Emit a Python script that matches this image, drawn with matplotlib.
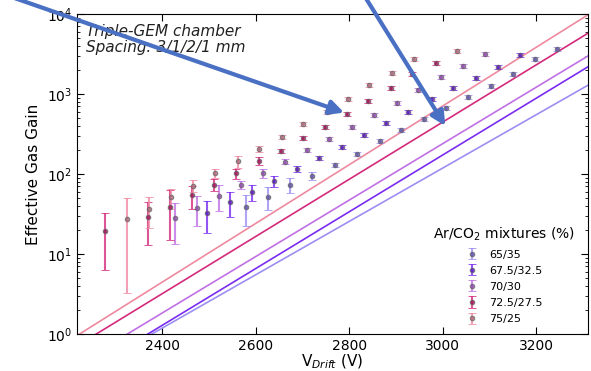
import matplotlib
matplotlib.use('Agg')
import matplotlib.pyplot as plt
import numpy as np

#data: drift voltage (V), effective gain, gain error
mixtures = ['65/35', '67.5/32.5', '70/30', '72.5/27.5', '75/25']

v65 = [2579, 2626, 2674, 2721, 2770, 2816, 2866, 2911, 2961, 3007, 3055, 3103, 3150, 3198, 3244]
g65 = [38.4, 52, 73, 95, 130, 178, 258, 355, 487, 674, 909, 1270, 1778, 2738, 3652]
e65 = [16, 17, 15, 12, 8, 10, 15, 20, 28, 40, 55, 75, 105, 160, 210]

v67 = [2495, 2545, 2593, 2640, 2688, 2736, 2784, 2832, 2878, 2927, 2977, 3023, 3071, 3119, 3166]
g67 = [32.3, 44.3, 59, 82.5, 114.5, 160, 219, 305, 430, 601, 866, 1189, 1600, 2194, 3073]
e67 = [14, 15, 13, 13, 10, 10, 13, 18, 25, 35, 50, 70, 95, 130, 180]

v70 = [2428, 2474, 2522, 2569, 2616, 2663, 2711, 2758, 2807, 2853, 2902, 2948, 2996, 3043, 3091]
g70 = [28.4, 38, 53, 73.5, 102, 142, 200, 276, 383, 546, 778, 1132, 1618, 2239, 3162]
e70 = [15, 15.5, 19, 9, 14, 10, 12, 16, 22, 32, 45, 65, 95, 130, 180]

v72 = [2278, 2370, 2417, 2465, 2511, 2558, 2607, 2654, 2701, 2749, 2795, 2841, 2890, 2934, 2985]
g72 = [19.4, 29, 39, 54, 73.5, 102, 145, 194, 282, 390, 557, 824, 1199, 1763, 2462]
e72 = [13, 16, 24, 17, 13, 15, 17, 12, 17, 23, 33, 50, 70, 100, 140]

v75 = [2324, 2373, 2418, 2467, 2513, 2562, 2608, 2656, 2702, 2752, 2797, 2843, 2892, 2939, 3031]
g75 = [27, 36, 51, 71, 102, 145, 207, 293, 418, 601, 866, 1296, 1846, 2738, 3447]
e75 = [23.7, 15, 14, 12, 12, 25, 20, 18, 25, 35, 50, 75, 100, 150, 190]

#fit lines: gain at the two ends of the voltage range
fit_v = [2200, 3320]
fit65 = [0.255, 1380]
fit67 = [0.25, 2355]
fit70 = [0.36, 3214]
fit72 = [0.614, 6194]
fit75 = [0.82, 10540]

colors = ['#9c8ef2', '#7a2cf0', '#c070e4', '#d42a7c', '#ee8aa0']
marker_colors = ['#5c50a0', '#5a1ab8', '#8c4aa8', '#9a1458', '#a86878']
series = [(v65, g65, e65, fit65), (v67, g67, e67, fit67), (v70, g70, e70, fit70),
          (v72, g72, e72, fit72), (v75, g75, e75, fit75)]

plt.rcParams['xtick.direction'] = 'in'
plt.rcParams['ytick.direction'] = 'in'
plt.rcParams['xtick.top'] = True
plt.rcParams['ytick.right'] = True
plt.rcParams['xtick.major.size'] = 5
plt.rcParams['ytick.major.size'] = 5
plt.rcParams['ytick.minor.size'] = 2.5
plt.rcParams['xtick.labelsize'] = 10
plt.rcParams['ytick.labelsize'] = 10

fig = plt.figure(figsize=(5.91, 3.71), dpi=100)
ax = fig.add_axes([0.1303, 0.0997, 0.8646, 0.8626])

handles = []
for (v, g, e, fit), c, mc, name in zip(series, colors, marker_colors, mixtures):
    ax.plot(fit_v, fit, color=c, lw=1.2, zorder=2)
    eb = ax.errorbar(v, g, yerr=e, fmt='o', ms=3.3, mfc=mc, mec='#666666', mew=0.7,
                     ecolor=c, elinewidth=1.5, capsize=2.8, capthick=1.0,
                     alpha=0.8, label=name, zorder=3)
    handles.append(eb)

ax.set_yscale('log')
ax.set_xlim(2218, 3311)
ax.set_ylim(1, 1e4)
ax.set_xticks([2400, 2600, 2800, 3000, 3200])
ax.set_ylabel('Effective Gas Gain', fontsize=11)
ax.set_xlabel(r'V$_{Drift}$ (V)', fontsize=11, labelpad=0)

ax.text(0.018, 0.968, 'Triple-GEM chamber\nSpacing: 3/1/2/1 mm', transform=ax.transAxes,
        fontsize=11, style='italic', va='top', ha='left', color='#222222', linespacing=1.05)

leg = ax.legend(handles=handles, loc='lower right', bbox_to_anchor=(0.995, 0.0),
                frameon=False, fontsize=8, title=r'Ar/CO$_2$ mixtures (%)',
                title_fontsize=10, handlelength=1.0, handletextpad=1.1, labelspacing=0.55)

#blue annotation arrows
arrow_c = '#4a70c4'
ax.annotate('', xy=(2795, 570), xycoords='data', xytext=(0, 378), textcoords='figure pixels',
            arrowprops=dict(arrowstyle='-|>,head_length=0.6,head_width=0.3', lw=3.0,
                            color=arrow_c, mutation_scale=14), annotation_clip=False, zorder=10)
ax.annotate('', xy=(3009, 373), xycoords='data', xytext=(362, 379), textcoords='figure pixels',
            arrowprops=dict(arrowstyle='-|>,head_length=0.6,head_width=0.3', lw=3.0,
                            color=arrow_c, mutation_scale=14), annotation_clip=False, zorder=10)

plt.savefig('out.png', dpi=100)
